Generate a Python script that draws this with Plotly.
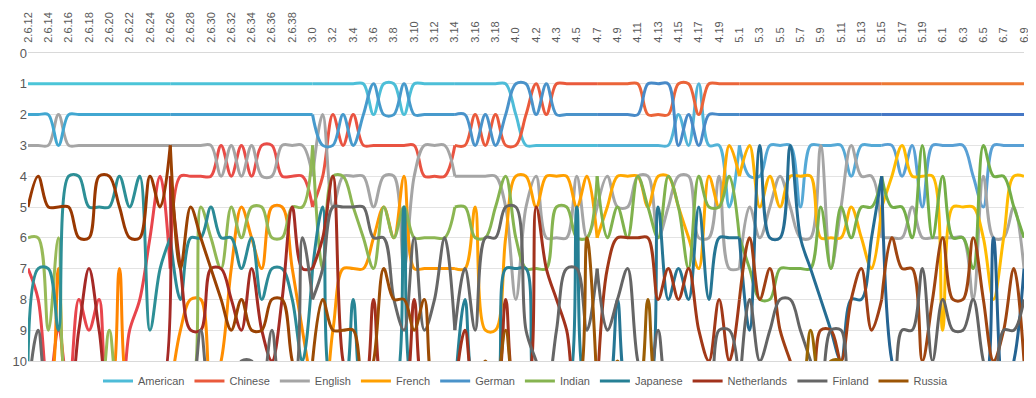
import plotly.graph_objects as go

# kernel versions on the x axis (every other one gets a label)
versions = ([f"2.6.{n}" for n in range(12, 40)] + [f"3.{n}" for n in range(20)]
            + ["4.0", "4.1", "4.2", "4.2.1"] + [f"4.{n}" for n in range(3, 21)]
            + [f"5.{n}" for n in range(1, 20)] + [f"6.{n}" for n in range(10)])
tick_labels = versions[::2]

names = ["American", "Chinese", "English", "French", "German",
         "Indian", "Japanese", "Netherlands", "Finland", "Russia"]

# rank per version (values > 10 fall off the bottom of the chart)
american = [1,1,1,1,1,1,1,1,1,1, 1,1,1,1,1,1,1,1,1,1, 1,1,1,1,1,1,1,1,1,1,
            1,1,1,1,2,1,1,2,1,1, 1,1,1,1,1,1,1,1,2,3, 3,3,3,3,3,3,3,3,3,3,
            3,3,3,3,2,3,1,3,3,5, 3,4,4,3,3,3,5,3,3,3, 3,4,3,3,3,3,4,3,5,3,
            3,3,3,4,5,3,3,3,3]
chinese = [7,8,11,9,11,8,9,8,11,11, 9,8,6,4,7,4,4,4,4,3, 4,3,4,3,3,4,4,4,5,4,
           2,3,2,3,3,3,3,3,3,4, 4,4,3,3,2,3,2,3,3,2, 1,2,1,1,1,1,1,1,1,1,
           1,2,2,2,1,1,2,1,1,1, 1,1,1,1,1,1,1,1,1,1, 1,1,1,1,1,1,1,1,1,1,
           1,1,1,1,1,1,1,1,1]
english = [3,3,3,2,3,3,3,3,3,3, 3,3,3,3,3,3,3,3,3,4, 3,4,3,4,4,3,3,3,4,2,
           5,4,4,4,5,4,4,7,4,3, 3,3,4,4,4,4,4,5,8,5, 4,6,6,6,4,6,5,4,5,5,
           4,4,6,5,4,4,6,6,4,7, 7,5,6,5,4,5,6,6,3,7, 5,3,4,4,6,6,6,5,6,6,
           6,6,6,8,4,6,6,5,7]
french = [11,11,11,7,11,11,11,11,11,7, 11,11,11,11,11,9,8,8,11,10, 7,5,6,7,5,5,7,9,11,11,
          9,7,7,7,6,5,6,4,7,7, 7,7,7,7,5,9,9,6,4,4, 5,4,4,4,5,4,6,5,4,4,
          4,5,4,4,5,6,7,4,5,3, 4,3,5,4,5,4,4,4,6,6, 6,5,6,7,5,4,3,4,4,4,
          9,5,5,5,6,8,6,4,4]
german = [2,2,2,3,2,2,2,2,2,2, 2,2,2,2,2,2,2,2,2,2, 2,2,2,2,2,2,2,2,2,3,
          3,2,3,2,1,2,2,1,2,2, 2,2,2,2,3,2,3,2,1,1, 2,1,2,2,2,2,2,2,2,2,
          2,1,1,1,3,2,3,2,2,2, 2,2,2,2,2,2,2,2,2,2, 2,2,2,2,2,2,2,2,2,2,
          2,2,2,2,2,2,2,2,2]
indian = [6,6,9,6,11,11,11,11,9,11, 11,11,11,11,11,11,11,5,6,7, 5,6,5,5,6,6,5,5,3,7,
          4,4,5,6,7,5,6,5,6,6, 6,6,5,5,6,6,5,4,6,7, 7,7,5,5,6,6,4,6,5,6,
          4,5,6,4,5,7,4,5,5,4, 6,7,8,8,7,7,7,7,5,7, 5,6,5,5,4,5,5,6,3,6,
          4,6,6,7,3,4,4,5,6]
japanese = [10,7,7,9,4,4,5,5,5,4, 5,4,9,7,6,8,6,6,5,6, 6,7,6,8,7,7,8,10,7,5,
            11,11,8,11,11,11,11,5,11,11, 11,11,11,8,11,11,11,7,7,7, 11,11,11,11,5,11,11,11,8,11,
            11,11,5,8,7,8,5,8,6,6, 6,9,3,6,6,3,6,7,8,9, 10,8,8,6,4,10,11,11,11,11,
            11,11,11,11,11,6,11,10,7]
netherlands = [11,11,11,11,11,9,7,9,11,11, 11,11,11,11,4,7,9,9,7,7, 8,9,7,9,10,8,5,7,7,6,
               4,10,11,11,8,11,11,11,8,11, 11,11,11,9,11,11,11,8,11,11, 5,7,8,9,11,11,11,7,6,6,
               6,6,8,7,8,7,9,10,8,10, 8,6,8,7,9,10,11,11,9,9, 10,8,7,9,8,6,7,7,10,8,
               6,8,8,6,8,10,9,7,10]
finland = [11,9,11,11,11,11,11,11,11,11, 11,11,11,11,11,11,11,9,11,11, 11,10,10,11,9,11,11,6,8,7,
           5,5,5,5,6,6,8,9,6,9, 8,6,9,7,9,6,6,5,5,9, 10,11,9,7,7,9,7,9,8,7,
           10,11,9,11,11,11,11,11,9,9, 11,8,10,9,8,8,9,10,11,9, 9,11,11,11,11,11,9,9,7,10,
           8,9,9,8,10,11,9,9,8]
russia = [5,4,5,5,5,6,6,4,4,5, 6,6,4,5,3,7,5,6,7,8, 9,8,9,9,8,8,10,11,10,8,
          9,9,9,11,10,7,8,8,9,8, 11,11,11,11,11,10,11,9,11,11, 11,11,11,11,11,6,11,11,10,11,
          11,8,11,11,11,11,11,11,11,11, 11,11,11,11,11,11,11,9,11,10, 10,11,11,11,11,11,11,11,11,11,
          11,11,11,11,11,11,11,11,11]

series = [american, chinese, english, french, german,
          indian, japanese, netherlands, finland, russia]

# lines fade from one colour to another along the axis (start, middle, end)
gradients = [
    ["#4BC6D8", "#4EBCD8", "#5B9BD5"],
    ["#E8424F", "#EA5A3C", "#ED7D31"],
    ["#A5A5A5", "#A5A5A5", "#A5A5A5"],
    ["#FF7F00", "#FFA000", "#FFC000"],
    ["#3FAAD2", "#4A93CA", "#4472C4"],
    ["#9BBB59", "#86B450", "#70AD47"],
    ["#2E9196", "#268095", "#255E91"],
    ["#A52828", "#A2321C", "#9E480E"],
    ["#6B6B6B", "#666666", "#636363"],
    ["#993300", "#9C5505", "#997300"],
]


def mix(c1, c2, t):
    a = [int(c1[i:i + 2], 16) for i in (1, 3, 5)]
    b = [int(c2[i:i + 2], 16) for i in (1, 3, 5)]
    return "#" + "".join(f"{round(a[k] + (b[k] - a[k]) * t):02x}" for k in range(3))


def grad_color(stops, t):
    if t <= 0.5:
        return mix(stops[0], stops[1], t / 0.5)
    return mix(stops[1], stops[2], (t - 0.5) / 0.5)


bounds = [0, 14, 28, 42, 56, 70, 84, 98]
last = len(versions) - 1

fig = go.Figure()
for name, vals, stops in zip(names, series, gradients):
    for k in range(len(bounds) - 1):
        a, b = bounds[k], bounds[k + 1]
        col = grad_color(stops, (a + b) / 2 / last)
        fig.add_trace(go.Scatter(
            x=versions[a:b + 1], y=vals[a:b + 1], mode="lines",
            line=dict(color=col, width=3, shape="spline"),
            name=name, legendgroup=name, showlegend=(k == 3),
            hoverinfo="x+y+name"))

# the page body keeps its 8px default margin, so the figure is 8px smaller
fig.update_layout(
    width=1028, height=390,
    margin=dict(l=20, r=12, t=45, b=37, autoexpand=False),
    paper_bgcolor="white", plot_bgcolor="white",
    font=dict(family="Liberation Sans, sans-serif", color="#595959"),
    legend=dict(orientation="h", x=0.5, xanchor="center", y=-0.065, yanchor="middle",
                font=dict(size=11, color="#595959"), itemwidth=30,
                tracegroupgap=0),
)
fig.update_xaxes(
    type="category", categoryorder="array", categoryarray=versions,
    range=[0, last], side="top", tickmode="array", tickvals=tick_labels,
    ticktext=tick_labels, tickangle=-90, tickfont=dict(size=11, color="#595959"),
    ticklabelstandoff=7, automargin=False,
    showgrid=False, showline=True, linecolor="#D9D9D9", mirror=True, ticks="",
)
fig.update_yaxes(
    range=[10, 0], tickmode="linear", tick0=0, dtick=1, automargin=False,
    tickfont=dict(size=13, color="#595959"), showgrid=True, gridcolor="#E3E3E3",
    zeroline=False, ticks="",
)

fig.write_html("out.html")
